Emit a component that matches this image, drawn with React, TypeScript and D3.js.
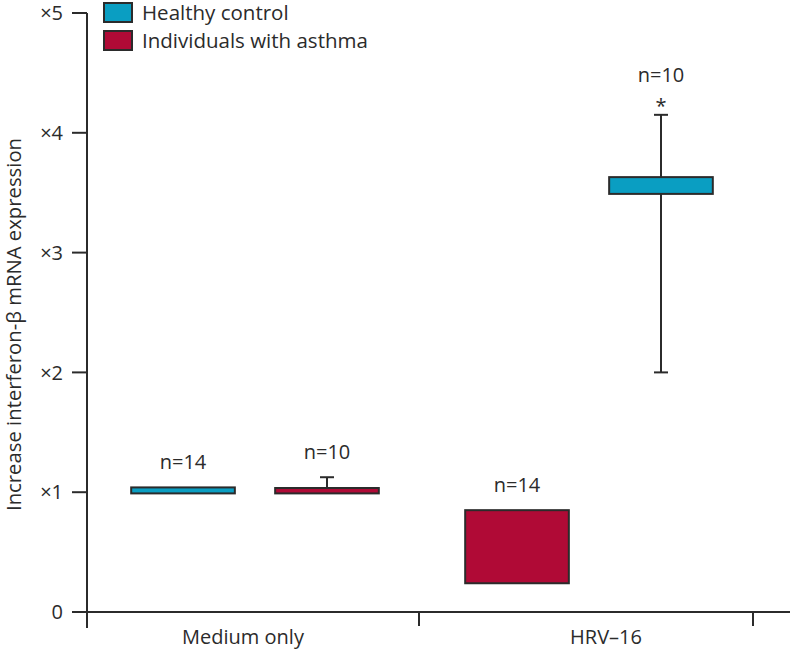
import React from "react";
import * as d3 from "d3";

const groups = ["Medium only", "HRV\u201316"];
const series = ["Healthy control", "Individuals with asthma"];
const colors = ["#0a9ec2", "#b00a36"];
// left/right order of series within each group
const order = [[0, 1], [1, 0]];
// values indexed [group][series]
const lows = [[0.99, 0.99], [3.49, 0.24]];
const highs = [[1.04, 1.035], [3.63, 0.85]];
const errLow = [[null, null], [2.0, null]];
const errHigh = [[null, 1.125], [4.15, null]];
const nLabels = [["n=14", "n=10"], ["n=10", "n=14"]];
const stars = [["", ""], ["*", ""]];
const yTicks = [0, 1, 2, 3, 4, 5];
const yTickLabels = ["0", "\u00d71", "\u00d72", "\u00d73", "\u00d74", "\u00d75"];

const W = 792, H = 652;
const font = "'Open Sans', sans-serif";
const ink = "#2b2b2b";
const sw = 2;

export default function App() {
  const y = d3.scaleLinear().domain([0, 5]).range([612, 13]);
  const x = d3.scaleBand().domain(groups).range([85, 753]).paddingInner(0).paddingOuter(0);
  const xs = d3.scaleBand<number>().domain([0, 1]).range([3, x.bandwidth() + 3]).paddingInner(0.28).paddingOuter(0.3);
  const bw = xs.bandwidth();
  const labelShift = [-9, 20];
  return (
    <svg width={W} height={H} style={{ position: "absolute", left: 0, top: 0, background: "#fff" }}>
      {/* y axis */}
      <line x1={87} x2={87} y1={y(5)} y2={628} stroke={ink} strokeWidth={sw} />
      {yTicks.map((t, i) => (
        <g key={t}>
          <line x1={72} x2={87} y1={y(t)} y2={y(t)} stroke={ink} strokeWidth={sw} />
          <text x={63} y={y(t)} dy="0.36em" textAnchor="end" fontFamily={font} fontSize={20} fill={ink}>
            {yTickLabels[i]}
          </text>
        </g>
      ))}
      <text transform={`translate(14,${y(2.4)}) rotate(-90)`} textAnchor="middle" dy="0.35em" fontFamily={font} fontSize={20.3} fill={ink}>
        Increase interferon-β mRNA expression
      </text>
      {/* x axis */}
      <line x1={87} x2={790} y1={612} y2={612} stroke={ink} strokeWidth={sw} />
      {groups.map((g, gi) => (
        <g key={g}>
          <line x1={(x(g) as number) + x.bandwidth()} x2={(x(g) as number) + x.bandwidth()} y1={612} y2={626} stroke={ink} strokeWidth={sw} />
          <text x={(x(g) as number) + x.bandwidth() / 2 + labelShift[gi]} y={644} textAnchor="middle" fontFamily={font} fontSize={20} fill={ink}>
            {g}
          </text>
        </g>
      ))}
      {/* bars */}
      {groups.map((g, gi) =>
        order[gi].map((si, pos) => {
          const x0 = (x(g) as number) + (xs(pos) as number);
          const cx = x0 + bw / 2;
          const eh = errHigh[gi][si];
          const el = errLow[gi][si];
          const top = y(highs[gi][si]);
          const bot = y(lows[gi][si]);
          const labelY = eh != null ? y(eh) : top;
          return (
            <g key={g + si}>
              {eh != null && (
                <g>
                  <line x1={cx} x2={cx} y1={y(eh)} y2={top} stroke={ink} strokeWidth={sw} />
                  <line x1={cx - 7} x2={cx + 7} y1={y(eh)} y2={y(eh)} stroke={ink} strokeWidth={sw} />
                </g>
              )}
              {el != null && (
                <g>
                  <line x1={cx} x2={cx} y1={bot} y2={y(el)} stroke={ink} strokeWidth={sw} />
                  <line x1={cx - 7} x2={cx + 7} y1={y(el)} y2={y(el)} stroke={ink} strokeWidth={sw} />
                </g>
              )}
              <rect x={x0} y={top} width={bw} height={bot - top} fill={colors[si]} stroke={ink} strokeWidth={sw} />
              {stars[gi][si] && (
                <text x={cx} y={labelY - 2} textAnchor="middle" fontFamily={font} fontSize={20} fill={ink}>
                  {stars[gi][si]}
                </text>
              )}
              <text x={cx} y={labelY - (stars[gi][si] ? 33 : 18)} textAnchor="middle" fontFamily={font} fontSize={20} fill={ink}>
                {nLabels[gi][si]}
              </text>
            </g>
          );
        })
      )}
      {/* legend */}
      {series.map((s, i) => (
        <g key={s}>
          <rect x={104} y={3 + i * 28} width={28} height={19} fill={colors[i]} stroke={ink} strokeWidth={sw} />
          <text x={142} y={20 + i * 28} fontFamily={font} fontSize={20.5} fill={ink}>
            {s}
          </text>
        </g>
      ))}
    </svg>
  );
}
